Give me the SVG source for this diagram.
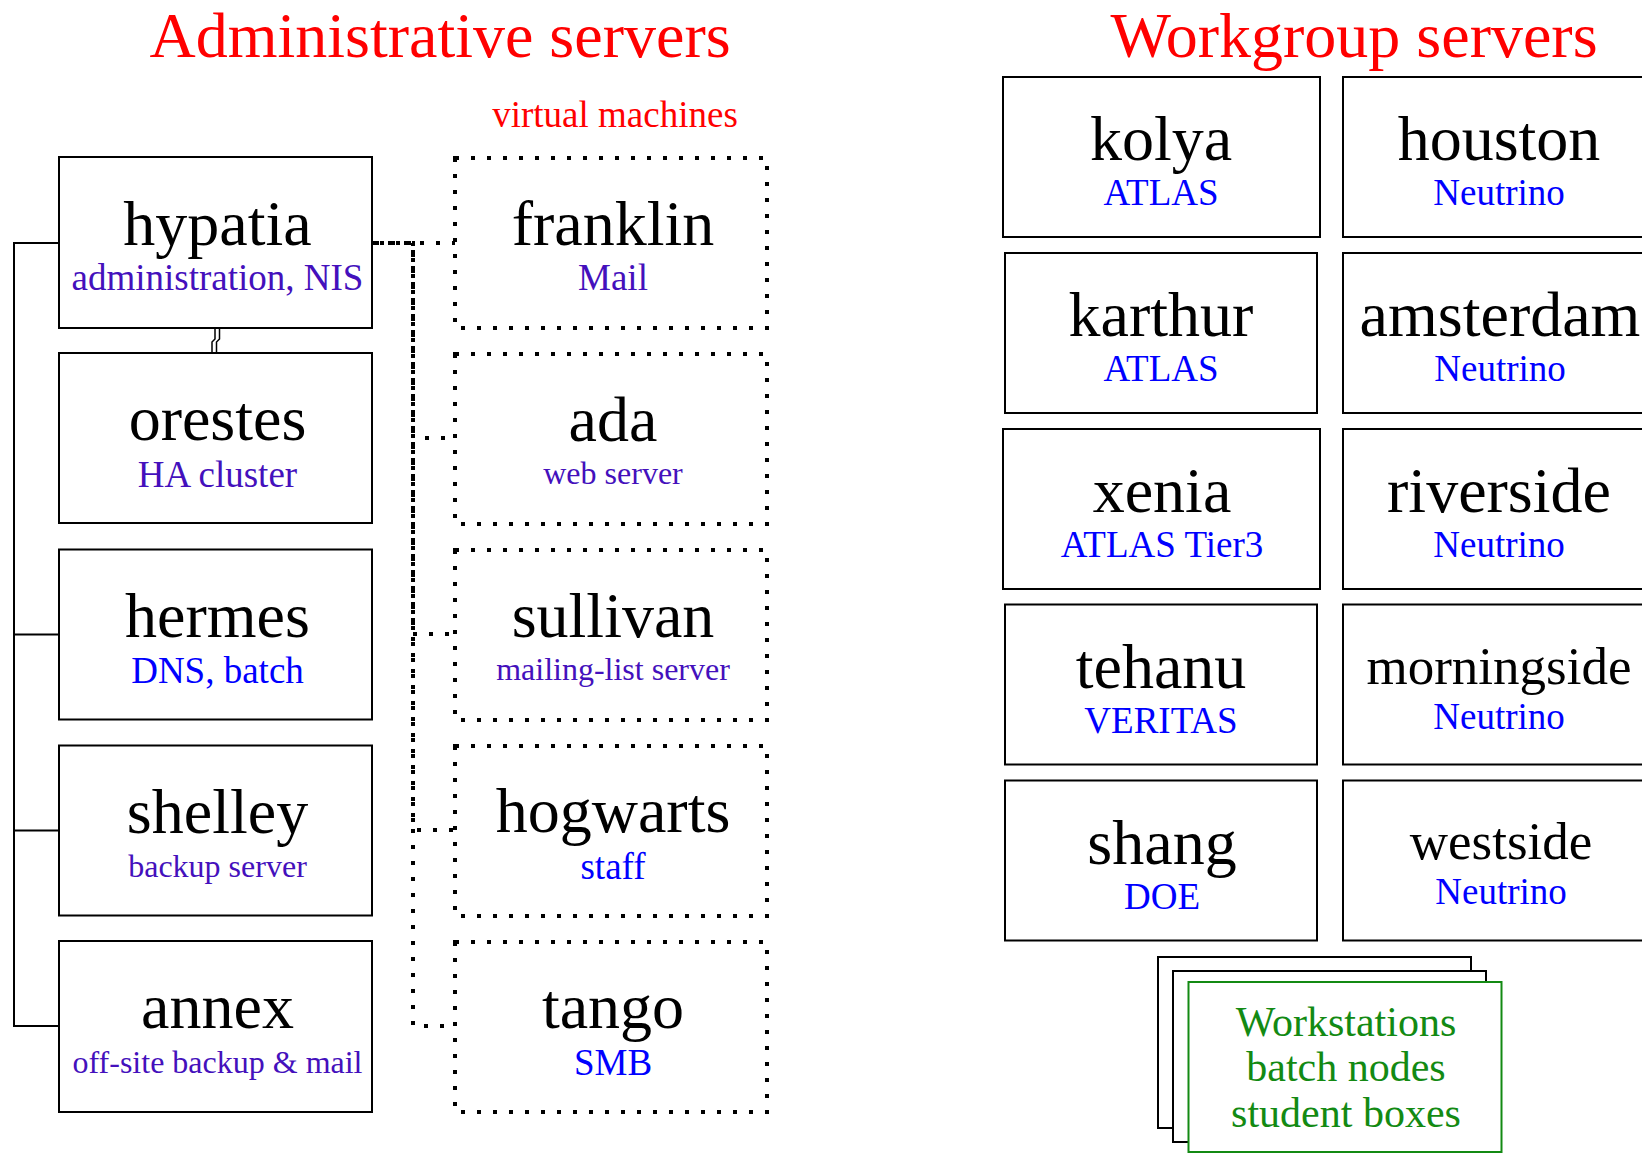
<svg xmlns="http://www.w3.org/2000/svg" width="1642" height="1154" viewBox="0 0 1642 1154">
<style>
text{font-family:"Liberation Serif","Times New Roman",serif;text-anchor:middle}
.title{font-size:64px;fill:#ff0000}
.vm-label{font-size:37px;fill:#ff0000}
.name{font-size:64px;fill:#000}
.name-s{font-size:53px;fill:#000}
.sub{font-size:37px}
.sub-s{font-size:32px}
.blue{fill:#0000ff}
.purple{fill:#4410bc}
.box{fill:#fff;stroke:#000;stroke-width:2}
.vbox{fill:none;stroke:#000;stroke-width:4;stroke-dasharray:4 12;shape-rendering:crispEdges}
.green{font-size:42px;fill:#138a13}
.gbox{fill:#fff;stroke:#138a13;stroke-width:2}
.bus{fill:none;stroke:#000;stroke-width:2}
.dot{fill:none;stroke:#000;stroke-width:3.5;stroke-dasharray:3.5 12.5;shape-rendering:crispEdges}
</style>
<rect width="1642" height="1154" fill="#fff"/>
<text class="title" x="440" y="57">Administrative servers</text>
<text class="title" x="1354" y="57">Workgroup servers</text>
<text class="vm-label" x="615" y="127">virtual machines</text>

<g id="connectors">
<path class="bus" d="M59,243 H14 V1026 H59 M14,634.5 H59 M14,830.5 H59"/>
<path fill="none" stroke="#000" stroke-width="1.5" d="M215,328 V339 L212,342 V353 M219.5,328 V339 L216.5,342 V353"/>
<path class="dot" d="M372,243 H455" stroke-dashoffset="0"/>
<path class="dot" d="M372,243 H413 V438 H455" stroke-dashoffset="8"/>
<path class="dot" d="M372,243 H413 V634 H455" stroke-dashoffset="0"/>
<path class="dot" d="M372,243 H413 V830 H455" stroke-dashoffset="8"/>
<path class="dot" d="M372,243 H413 V1026 H455" stroke-dashoffset="13"/>
</g>

<g id="hypatia"><rect class="box" x="59" y="157" width="313" height="171"/><text class="name" x="217.5" y="245">hypatia</text><text class="sub purple" x="217.5" y="290">administration, NIS</text></g>
<g id="orestes"><rect class="box" x="59" y="353" width="313" height="170"/><text class="name" x="217.5" y="440">orestes</text><text class="sub purple" x="217.5" y="487">HA cluster</text></g>
<g id="hermes"><rect class="box" x="59" y="549.5" width="313" height="170"/><text class="name" x="217.5" y="636.5">hermes</text><text class="sub blue" x="217.5" y="683">DNS, batch</text></g>
<g id="shelley"><rect class="box" x="59" y="745.5" width="313" height="170"/><text class="name" x="217.5" y="832.5">shelley</text><text class="sub-s purple" x="217.5" y="877">backup server</text></g>
<g id="annex"><rect class="box" x="59" y="941" width="313" height="171"/><text class="name" x="217.5" y="1028">annex</text><text class="sub-s purple" x="217.5" y="1073">off-site backup &amp; mail</text></g>

<g id="franklin"><rect class="vbox" x="455" y="158" width="312" height="170"/><text class="name" x="613" y="245">franklin</text><text class="sub purple" x="613" y="290">Mail</text></g>
<g id="ada"><rect class="vbox" x="455" y="354" width="312" height="170"/><text class="name" x="613" y="441">ada</text><text class="sub-s purple" x="613" y="484">web server</text></g>
<g id="sullivan"><rect class="vbox" x="455" y="550" width="312" height="170"/><text class="name" x="613" y="636.5">sullivan</text><text class="sub-s purple" x="613" y="680">mailing-list server</text></g>
<g id="hogwarts"><rect class="vbox" x="455" y="746" width="312" height="170"/><text class="name" x="613" y="832">hogwarts</text><text class="sub blue" x="613" y="879">staff</text></g>
<g id="tango"><rect class="vbox" x="455" y="942" width="312" height="170"/><text class="name" x="613" y="1028">tango</text><text class="sub blue" x="613" y="1075">SMB</text></g>

<g id="kolya"><rect class="box" x="1003" y="77" width="317" height="160"/><text class="name" x="1161" y="160">kolya</text><text class="sub blue" x="1161" y="205">ATLAS</text></g>
<g id="karthur"><rect class="box" x="1005" y="253" width="312" height="160"/><text class="name" x="1161" y="336">karthur</text><text class="sub blue" x="1161" y="381">ATLAS</text></g>
<g id="xenia"><rect class="box" x="1003" y="429" width="317" height="160"/><text class="name" x="1162" y="512">xenia</text><text class="sub blue" x="1162" y="557">ATLAS Tier3</text></g>
<g id="tehanu"><rect class="box" x="1005" y="604.5" width="312" height="160"/><text class="name" x="1161" y="687.5">tehanu</text><text class="sub blue" x="1161" y="732.5">VERITAS</text></g>
<g id="shang"><rect class="box" x="1005" y="780.5" width="312" height="160"/><text class="name" x="1162" y="863.5">shang</text><text class="sub blue" x="1162" y="908.5">DOE</text></g>

<g id="houston"><rect class="box" x="1343" y="77" width="313" height="160"/><text class="name" x="1499" y="160">houston</text><text class="sub blue" x="1499" y="205">Neutrino</text></g>
<g id="amsterdam"><rect class="box" x="1343" y="253" width="313" height="160"/><text class="name" x="1500" y="336">amsterdam</text><text class="sub blue" x="1500" y="381">Neutrino</text></g>
<g id="riverside"><rect class="box" x="1343" y="429" width="313" height="160"/><text class="name" x="1499" y="512">riverside</text><text class="sub blue" x="1499" y="557">Neutrino</text></g>
<g id="morningside"><rect class="box" x="1343" y="604.5" width="313" height="160"/><text class="name-s" x="1499" y="684">morningside</text><text class="sub blue" x="1499" y="729">Neutrino</text></g>
<g id="westside"><rect class="box" x="1343" y="780.5" width="313" height="160"/><text class="name-s" x="1501" y="859">westside</text><text class="sub blue" x="1501" y="904">Neutrino</text></g>

<g id="workstations">
<rect class="box" x="1158" y="957" width="313" height="171"/>
<rect class="box" x="1173" y="971" width="313" height="171"/>
<rect class="gbox" x="1188.5" y="982" width="313" height="170"/>
<text class="green" x="1346" y="1036">Workstations</text>
<text class="green" x="1346" y="1081">batch nodes</text>
<text class="green" x="1346" y="1127">student boxes</text>
</g>
</svg>
